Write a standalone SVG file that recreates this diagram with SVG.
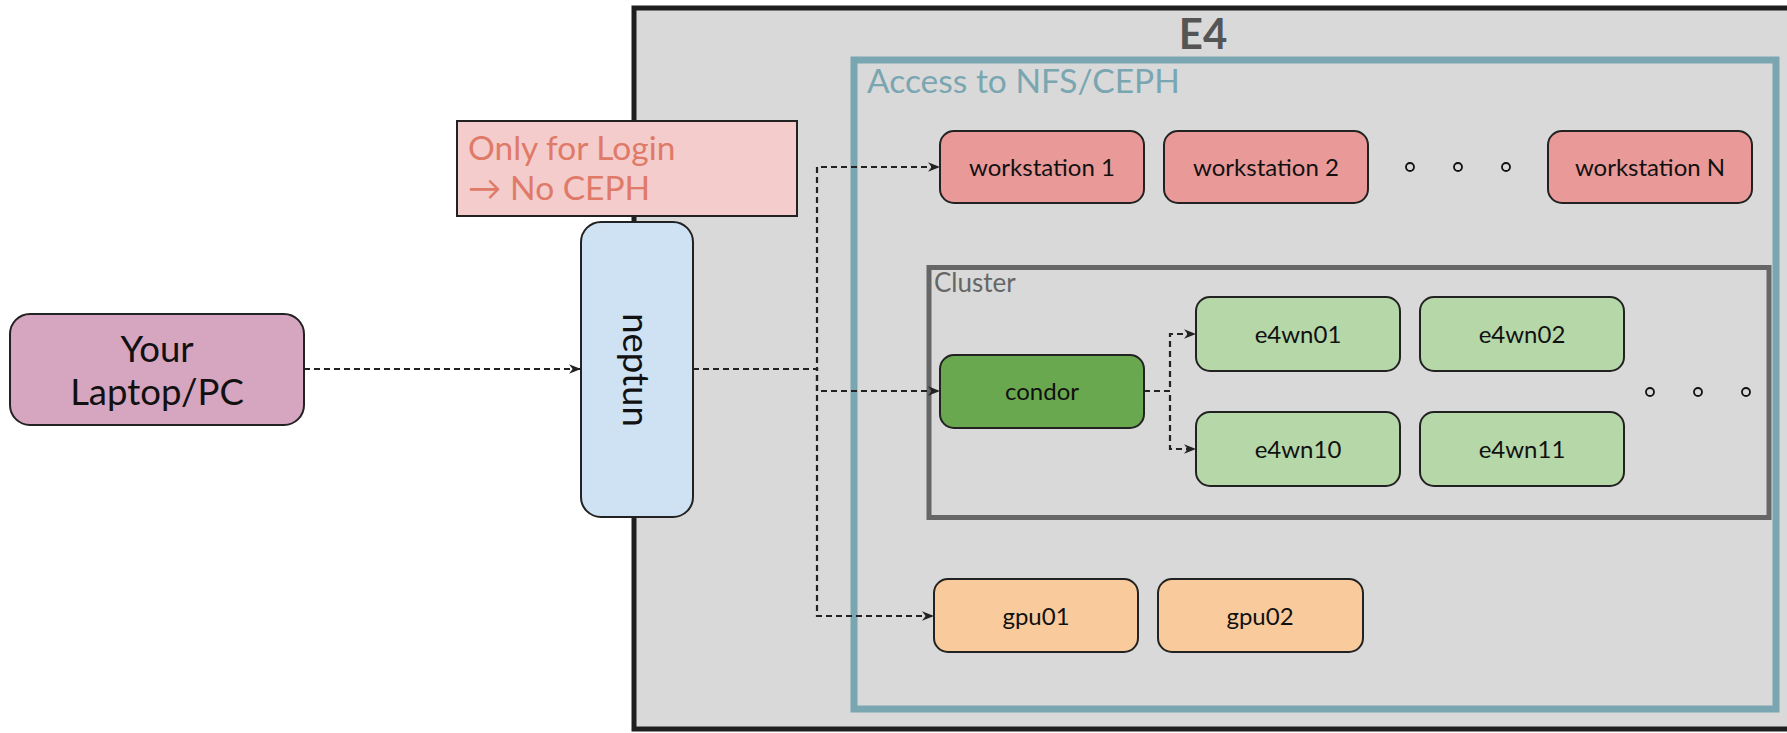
<svg xmlns="http://www.w3.org/2000/svg" width="1787" height="733" viewBox="0 0 1787 733">
<style>
text{font-family:Lato,"Liberation Sans",sans-serif;}
.node{stroke:#222;stroke-width:2;}
.lbl{font-size:24px;fill:#111;text-anchor:middle;}
.big{font-size:36.5px;fill:#111;text-anchor:middle;}
.edge{fill:none;stroke:#222;stroke-width:2.2;stroke-dasharray:6 4;}
.dot{fill:none;stroke:#111;stroke-width:1.8;}
</style>
<defs>
<marker id="arr" markerUnits="userSpaceOnUse" markerWidth="12" markerHeight="10" refX="10" refY="4" orient="auto" viewBox="0 0 10 8">
<path d="M0,0 L10,4 L0,8 L3,4 z" fill="#222"/>
</marker>
</defs>
<rect width="1787" height="733" fill="#ffffff"/>
<g id="e4">
<rect x="634" y="8" width="1160" height="721" fill="#d9d9d9" stroke="#1e1e1e" stroke-width="5"/>
<text x="1203" y="49" font-size="42" font-weight="bold" fill="#555" text-anchor="middle">E4</text>
</g>
<g id="nfs">
<rect x="854" y="60" width="922" height="649" fill="none" stroke="#79a6b1" stroke-width="7"/>
<text x="867" y="93" font-size="33.5" fill="#79a6b1">Access to NFS/CEPH</text>
</g>
<g id="cluster">
<rect x="929" y="267.5" width="840" height="250" fill="none" stroke="#666" stroke-width="5"/>
<text x="934" y="292" font-size="26" fill="#666">Cluster</text>
</g>
<g id="note">
<rect x="457" y="121" width="340" height="95" fill="#f4cccc" stroke="#222" stroke-width="2"/>
<text x="468" y="160" font-size="33.5" fill="#e07a68">Only for Login</text>
<text x="468" y="200" font-size="33.5" fill="#e07a68">→ No CEPH</text>
</g>
<g id="connectors">
<path class="edge" d="M304,369 L581,369" marker-end="url(#arr)"/>
<path class="edge" d="M693,369 L817,369 L817,167 L940,167" marker-end="url(#arr)"/>
<path class="edge" d="M693,369 L817,369 L817,391 L940,391" marker-end="url(#arr)"/>
<path class="edge" d="M693,369 L817,369 L817,616 L934,616" marker-end="url(#arr)"/>
<path class="edge" d="M1144,391 L1170,391 L1170,334 L1196,334" marker-end="url(#arr)"/>
<path class="edge" d="M1144,391 L1170,391 L1170,449 L1196,449" marker-end="url(#arr)"/>
</g>
<g id="laptop">
<rect class="node" x="10" y="314" width="294" height="111" rx="20" fill="#d6a5c0"/>
<text class="big" x="157" y="362">Your</text>
<text class="big" x="157" y="405">Laptop/PC</text>
</g>
<g id="neptun">
<rect class="node" x="581" y="222" width="112" height="295" rx="20" fill="#cfe2f3"/>
<text class="big" x="0" y="0" transform="translate(637,370) rotate(90)" dominant-baseline="central">neptun</text>
</g>
<g id="ws1">
<rect class="node" x="940" y="131" width="204" height="72" rx="14" fill="#ea9999"/>
<text class="lbl" x="1042" y="176">workstation 1</text>
</g>
<g id="ws2">
<rect class="node" x="1164" y="131" width="204" height="72" rx="14" fill="#ea9999"/>
<text class="lbl" x="1266" y="176">workstation 2</text>
</g>
<g id="wsN">
<rect class="node" x="1548" y="131" width="204" height="72" rx="14" fill="#ea9999"/>
<text class="lbl" x="1650" y="176">workstation N</text>
</g>
<g id="wsdots">
<circle class="dot" cx="1410" cy="167" r="4"/>
<circle class="dot" cx="1458" cy="167" r="4"/>
<circle class="dot" cx="1506" cy="167" r="4"/>
</g>
<g id="condor">
<rect class="node" x="940" y="355" width="204" height="73" rx="14" fill="#6aa84f"/>
<text class="lbl" x="1042" y="400">condor</text>
</g>
<g id="e4wn01">
<rect class="node" x="1196" y="297" width="204" height="74" rx="14" fill="#b6d7a8"/>
<text class="lbl" x="1298" y="343">e4wn01</text>
</g>
<g id="e4wn02">
<rect class="node" x="1420" y="297" width="204" height="74" rx="14" fill="#b6d7a8"/>
<text class="lbl" x="1522" y="343">e4wn02</text>
</g>
<g id="e4wn10">
<rect class="node" x="1196" y="412" width="204" height="74" rx="14" fill="#b6d7a8"/>
<text class="lbl" x="1298" y="458">e4wn10</text>
</g>
<g id="e4wn11">
<rect class="node" x="1420" y="412" width="204" height="74" rx="14" fill="#b6d7a8"/>
<text class="lbl" x="1522" y="458">e4wn11</text>
</g>
<g id="clusterdots">
<circle class="dot" cx="1650" cy="392" r="4"/>
<circle class="dot" cx="1698" cy="392" r="4"/>
<circle class="dot" cx="1746" cy="392" r="4"/>
</g>
<g id="gpu01">
<rect class="node" x="934" y="579" width="204" height="73" rx="14" fill="#f9cb9c"/>
<text class="lbl" x="1036" y="625">gpu01</text>
</g>
<g id="gpu02">
<rect class="node" x="1158" y="579" width="205" height="73" rx="14" fill="#f9cb9c"/>
<text class="lbl" x="1260" y="625">gpu02</text>
</g>
</svg>
